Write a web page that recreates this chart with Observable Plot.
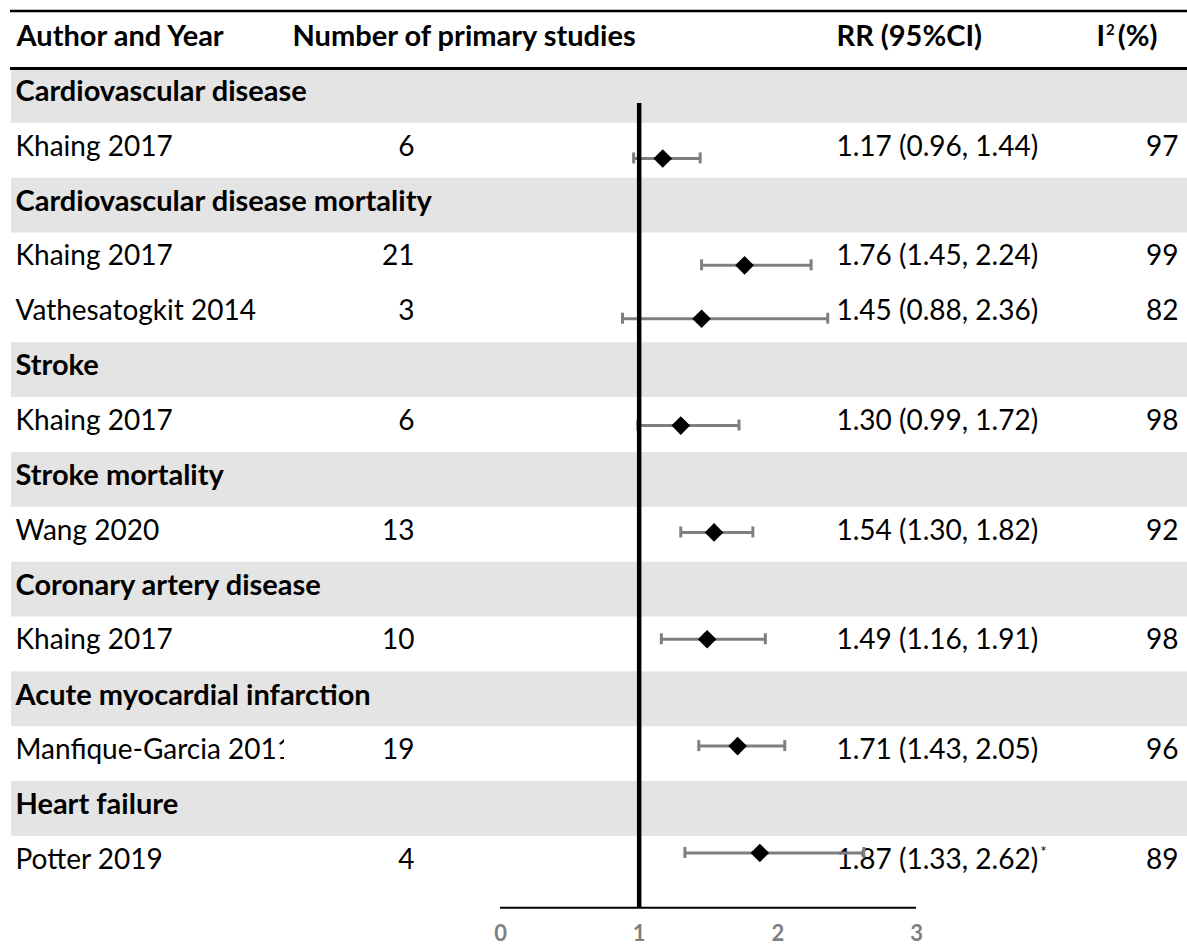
<!DOCTYPE html>
<html>
<head>
<meta charset="utf-8">
<script src="https://cdn.jsdelivr.net/npm/d3@7"></script>
<script src="https://cdn.jsdelivr.net/npm/@observablehq/plot@0.6"></script>
<style>
  html, body { margin: 0; padding: 0; background: #fff; }
  #chart svg { display: block; }
</style>
</head>
<body>
<div id="chart"></div>
<script>
// ---- data ----
const categories = [
  "Cardiovascular disease",
  "Cardiovascular disease mortality",
  "Stroke",
  "Stroke mortality",
  "Coronary artery disease",
  "Acute myocardial infarction",
  "Heart failure"
];
const studyAuthors = ["Khaing 2017", "Khaing 2017", "Vathesatogkit 2014", "Khaing 2017", "Wang 2020", "Khaing 2017", "Manfique-Garcia 2011", "Potter 2019"];
const studyCategory = [0, 1, 1, 2, 3, 4, 5, 6];
const studyCount = [6, 21, 3, 6, 13, 10, 19, 4];
const rrValues = [1.17, 1.76, 1.45, 1.30, 1.54, 1.49, 1.71, 1.87];
const ciLower = [0.96, 1.45, 0.88, 0.99, 1.30, 1.16, 1.43, 1.33];
const ciUpper = [1.44, 2.24, 2.36, 1.72, 1.82, 1.91, 2.05, 2.62];
const i2Values = [97, 99, 82, 98, 92, 98, 96, 89];
const headers = ["Author and Year", "Number of primary studies", "RR (95%CI)", "I2 (%)"];
const xTicks = [0, 1, 2, 3];

// ---- table rows ----
const rows = [];
categories.forEach((c, ci) => {
  rows.push({row: rows.length, type: "cat", label: c});
  studyAuthors.forEach((a, i) => {
    if (studyCategory[i] === ci) {
      rows.push({
        row: rows.length, type: "study", author: a, n: studyCount[i],
        rr: rrValues[i], lo: ciLower[i], hi: ciUpper[i], i2: i2Values[i],
        rrText: `${rrValues[i].toFixed(2)} (${ciLower[i].toFixed(2)}, ${ciUpper[i].toFixed(2)})`
      });
    }
  });
});
const catRows = rows.filter(d => d.type === "cat");
const studyRows = rows.filter(d => d.type === "study");
const nRows = rows.length;

// layout constants (in row units)
const topRuleY = -1.05, headerY = -0.56, headRuleY = 0, axisLineY = 15.3, refTopY = 0.64;
const markerFirst = 1.64, markerStep = 0.974, capHalf = 0.1;
const markerY = d => markerFirst + (d.row - 1) * markerStep;
const textY = d => d.row + 0.5;

const font = "Lato, 'Open Sans', sans-serif";
const FS = 28;   // regular text
const FB = 29;   // bold text

const chart = Plot.plot({
  width: 1187,
  height: 951,
  marginLeft: 0,
  marginRight: 0,
  marginTop: 0,
  marginBottom: 44,
  style: {fontFamily: font, fontSize: FS + "px", background: "#fff", color: "#000"},
  x: {domain: [0, 3], range: [500, 916], axis: null},
  y: {domain: [0, nRows], range: [68, 890.75], axis: null},
  marks: [
    // gray category bands
    Plot.rect(catRows, {y1: d => d.row, y2: d => d.row + 1, fill: "#e4e4e4", insetLeft: 11}),
    // table rules
    Plot.ruleY([topRuleY], {stroke: "#000", strokeWidth: 2.5, insetLeft: 10}),
    Plot.ruleY([headRuleY], {stroke: "#000", strokeWidth: 3, insetLeft: 10}),
    // header
    Plot.text([headers[0]], {text: d => d, y: () => headerY, frameAnchor: "left", dx: 16, textAnchor: "start", fontWeight: "bold", fontSize: FB, fill: "#000", dy: -1}),
    Plot.text([headers[1]], {text: d => d, y: () => headerY, frameAnchor: "left", dx: 292, textAnchor: "start", fontWeight: "bold", fontSize: FB, fill: "#000", dy: -1}),
    Plot.text([headers[2]], {text: d => d, y: () => headerY, frameAnchor: "left", dx: 836, textAnchor: "start", fontWeight: "bold", fontSize: FB, fill: "#000", dy: -1}),
    Plot.text([headers[3]], {text: d => d, y: () => headerY, frameAnchor: "left", dx: 1096, textAnchor: "start", fontWeight: "bold", fontSize: FB, fill: "#000", dy: -1}),
    // category labels
    Plot.text(catRows, {text: "label", y: textY, frameAnchor: "left", dx: 15, textAnchor: "start", fontWeight: "bold", fontSize: FB, fill: "#000", dy: -4}),
    // study columns
    Plot.text(studyRows, {text: "author", y: textY, frameAnchor: "left", dx: 15, textAnchor: "start", fontSize: FS, fill: "#000", dy: -4}),
    Plot.text(studyRows, {text: d => String(d.n), y: textY, frameAnchor: "left", dx: 414, textAnchor: "end", fontSize: FS, fill: "#000", dy: -4}),
    Plot.text(studyRows, {text: "rrText", y: textY, frameAnchor: "left", dx: 836, textAnchor: "start", fontSize: FS, fill: "#000", dy: -4}),
    Plot.text(studyRows, {text: d => String(d.i2), y: textY, frameAnchor: "left", dx: 1178, textAnchor: "end", fontSize: FS, fill: "#000", dy: -4}),
    // confidence intervals
    Plot.ruleY(studyRows, {y: markerY, x1: "lo", x2: "hi", stroke: "#7f7f7f", strokeWidth: 3}),
    Plot.ruleX(studyRows, {x: "lo", y1: d => markerY(d) - capHalf, y2: d => markerY(d) + capHalf, stroke: "#7f7f7f", strokeWidth: 3}),
    Plot.ruleX(studyRows, {x: "hi", y1: d => markerY(d) - capHalf, y2: d => markerY(d) + capHalf, stroke: "#7f7f7f", strokeWidth: 3}),
    // reference line at RR = 1
    Plot.ruleX([1], {y1: refTopY, y2: axisLineY, stroke: "#000", strokeWidth: 4.5}),
    // point estimates
    Plot.dot(studyRows, {x: "rr", y: markerY, symbol: "diamond2", r: 8.4, fill: "#000", stroke: "none"}),
    // x axis line and tick labels
    Plot.ruleY([axisLineY], {x1: 0, x2: 3, stroke: "#000", strokeWidth: 2}),
    Plot.text(xTicks, {x: d => d, text: d => String(d), frameAnchor: "bottom", dy: 33, fontSize: 22, fontWeight: "bold", fill: "#7f7f7f", textAnchor: "middle"})
  ]
});

document.getElementById("chart").appendChild(chart);

// ---- post-process: superscripts and clipped label ----
const svg = d3.select(chart);
const defs = svg.insert("defs", ":first-child");
svg.selectAll("text").each(function() {
  const t = this.textContent;
  const sel = d3.select(this);
  if (t === "I2 (%)") {
    sel.text(null);
    sel.append("tspan").text("I");
    sel.append("tspan").attr("font-size", 15).attr("dy", -11).attr("dx", 1).text("2");
    sel.append("tspan").attr("dy", 11).attr("dx", 3).text("(%)");
  } else if (t === "1.87 (1.33, 2.62)") {
    sel.append("tspan").attr("font-size", 15).attr("dy", -12).attr("dx", 2).text("*");
  } else if (t === "Manfique-Garcia 2011") {
    const m = this.getCTM();
    defs.append("clipPath").attr("id", "author-clip").attr("clipPathUnits", "userSpaceOnUse")
      .append("rect").attr("x", -m.e).attr("y", -m.f).attr("width", 284).attr("height", 951);
    sel.attr("clip-path", "url(#author-clip)");
  }
});
</script>
</body>
</html>
